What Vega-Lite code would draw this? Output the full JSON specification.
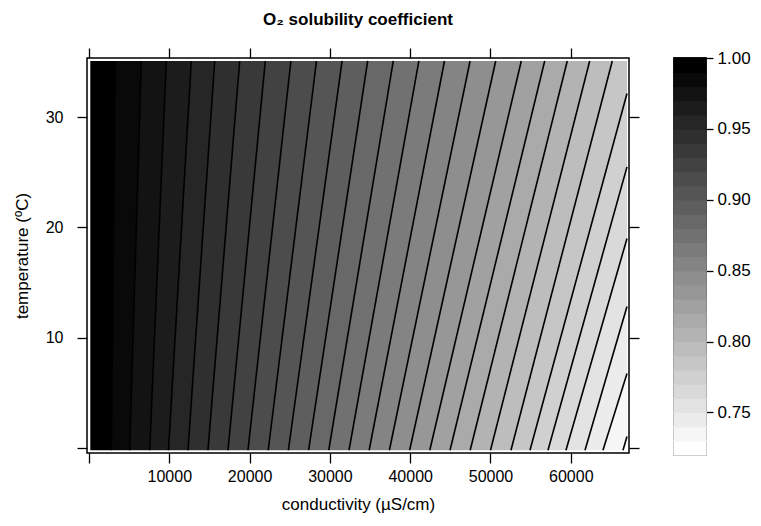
{
  "$schema": "https://vega.github.io/schema/vega-lite/v6.json",
  "background": "white",
  "padding": {"left": 12, "top": 10, "right": 5, "bottom": 5},
  "config": {
    "font": "Liberation Sans",
    "view": {"stroke": "black", "strokeWidth": 1.5},
    "axis": {"grid": false, "domain": false, "tickColor": "black", "tickWidth": 1.3, "tickSize": 10, "labelColor": "black", "labelFontSize": 16, "titleColor": "black", "titleFontSize": 17, "titleFontWeight": "normal", "labelFont": "Liberation Sans", "titleFont": "Liberation Sans"}
  },
  "datasets": {
    "bands": [
      {"mid": 0.995, "temp": -0.2, "c_lo": 160, "c_hi": 2780}, {"mid": 0.995, "temp": 35.1, "c_lo": 160, "c_hi": 3275},
      {"mid": 0.985, "temp": -0.2, "c_lo": 2780, "c_hi": 5070}, {"mid": 0.985, "temp": 35.1, "c_lo": 3275, "c_hi": 6513},
      {"mid": 0.975, "temp": -0.2, "c_lo": 5070, "c_hi": 7560}, {"mid": 0.975, "temp": 35.1, "c_lo": 6513, "c_hi": 9626},
      {"mid": 0.965, "temp": -0.2, "c_lo": 7560, "c_hi": 9900}, {"mid": 0.965, "temp": 35.1, "c_lo": 9626, "c_hi": 12740},
      {"mid": 0.955, "temp": -0.2, "c_lo": 9900, "c_hi": 12330}, {"mid": 0.955, "temp": 35.1, "c_lo": 12740, "c_hi": 15654},
      {"mid": 0.945, "temp": -0.2, "c_lo": 12330, "c_hi": 14820}, {"mid": 0.945, "temp": 35.1, "c_lo": 15654, "c_hi": 18767},
      {"mid": 0.935, "temp": -0.2, "c_lo": 14820, "c_hi": 17310}, {"mid": 0.935, "temp": 35.1, "c_lo": 18767, "c_hi": 21955},
      {"mid": 0.925, "temp": -0.2, "c_lo": 17310, "c_hi": 19800}, {"mid": 0.925, "temp": 35.1, "c_lo": 21955, "c_hi": 25143},
      {"mid": 0.915, "temp": -0.2, "c_lo": 19800, "c_hi": 22320}, {"mid": 0.915, "temp": 35.1, "c_lo": 25143, "c_hi": 28331},
      {"mid": 0.905, "temp": -0.2, "c_lo": 22320, "c_hi": 24830}, {"mid": 0.905, "temp": 35.1, "c_lo": 28331, "c_hi": 31519},
      {"mid": 0.895, "temp": -0.2, "c_lo": 24830, "c_hi": 27350}, {"mid": 0.895, "temp": 35.1, "c_lo": 31519, "c_hi": 34707},
      {"mid": 0.885, "temp": -0.2, "c_lo": 27350, "c_hi": 29860}, {"mid": 0.885, "temp": 35.1, "c_lo": 34707, "c_hi": 37895},
      {"mid": 0.875, "temp": -0.2, "c_lo": 29860, "c_hi": 32380}, {"mid": 0.875, "temp": 35.1, "c_lo": 37895, "c_hi": 41083},
      {"mid": 0.865, "temp": -0.2, "c_lo": 32380, "c_hi": 34890}, {"mid": 0.865, "temp": 35.1, "c_lo": 41083, "c_hi": 44271},
      {"mid": 0.855, "temp": -0.2, "c_lo": 34890, "c_hi": 37410}, {"mid": 0.855, "temp": 35.1, "c_lo": 44271, "c_hi": 47460},
      {"mid": 0.845, "temp": -0.2, "c_lo": 37410, "c_hi": 39930}, {"mid": 0.845, "temp": 35.1, "c_lo": 47460, "c_hi": 50648},
      {"mid": 0.835, "temp": -0.2, "c_lo": 39930, "c_hi": 42440}, {"mid": 0.835, "temp": 35.1, "c_lo": 50648, "c_hi": 53836},
      {"mid": 0.825, "temp": -0.2, "c_lo": 42440, "c_hi": 44960}, {"mid": 0.825, "temp": 35.1, "c_lo": 53836, "c_hi": 56750},
      {"mid": 0.815, "temp": -0.2, "c_lo": 44960, "c_hi": 47470}, {"mid": 0.815, "temp": 35.1, "c_lo": 56750, "c_hi": 59564},
      {"mid": 0.805, "temp": -0.2, "c_lo": 47470, "c_hi": 50000}, {"mid": 0.805, "temp": 35.1, "c_lo": 59564, "c_hi": 62354},
      {"mid": 0.795, "temp": -0.2, "c_lo": 50000, "c_hi": 52550}, {"mid": 0.795, "temp": 35.1, "c_lo": 62354, "c_hi": 65168},
      {"mid": 0.785, "temp": -0.2, "c_lo": 52550, "c_hi": 54920}, {"mid": 0.785, "temp": 32.15, "c_lo": 64113, "c_hi": 67000}, {"mid": 0.785, "temp": 35.1, "c_lo": 65168, "c_hi": 67000},
      {"mid": 0.775, "temp": -0.2, "c_lo": 54920, "c_hi": 57160}, {"mid": 0.775, "temp": 25.5, "c_lo": 64517, "c_hi": 67000}, {"mid": 0.775, "temp": 32.15, "c_lo": 67000, "c_hi": 67000},
      {"mid": 0.765, "temp": -0.2, "c_lo": 57160, "c_hi": 59400}, {"mid": 0.765, "temp": 19.0, "c_lo": 64511, "c_hi": 67000}, {"mid": 0.765, "temp": 25.5, "c_lo": 67000, "c_hi": 67000},
      {"mid": 0.755, "temp": -0.2, "c_lo": 59400, "c_hi": 61770}, {"mid": 0.755, "temp": 12.84, "c_lo": 64562, "c_hi": 67000}, {"mid": 0.755, "temp": 19.0, "c_lo": 67000, "c_hi": 67000},
      {"mid": 0.745, "temp": -0.2, "c_lo": 61770, "c_hi": 64010}, {"mid": 0.745, "temp": 6.76, "c_lo": 64561, "c_hi": 67000}, {"mid": 0.745, "temp": 12.84, "c_lo": 67000, "c_hi": 67000},
      {"mid": 0.735, "temp": -0.2, "c_lo": 64010, "c_hi": 66500}, {"mid": 0.735, "temp": 1.05, "c_lo": 64547, "c_hi": 67000}, {"mid": 0.735, "temp": 6.76, "c_lo": 67000, "c_hi": 67000},
      {"mid": 0.725, "temp": -0.2, "c_lo": 66500, "c_hi": 67000}, {"mid": 0.725, "temp": 1.05, "c_lo": 67000, "c_hi": 67000}
    ],
    "lines": [
      {"level": 0.99, "temp": -0.2, "cond": 2780}, {"level": 0.99, "temp": 35.1, "cond": 3275},
      {"level": 0.98, "temp": -0.2, "cond": 5070}, {"level": 0.98, "temp": 35.1, "cond": 6513},
      {"level": 0.97, "temp": -0.2, "cond": 7560}, {"level": 0.97, "temp": 35.1, "cond": 9626},
      {"level": 0.96, "temp": -0.2, "cond": 9900}, {"level": 0.96, "temp": 35.1, "cond": 12740},
      {"level": 0.95, "temp": -0.2, "cond": 12330}, {"level": 0.95, "temp": 35.1, "cond": 15654},
      {"level": 0.94, "temp": -0.2, "cond": 14820}, {"level": 0.94, "temp": 35.1, "cond": 18767},
      {"level": 0.93, "temp": -0.2, "cond": 17310}, {"level": 0.93, "temp": 35.1, "cond": 21955},
      {"level": 0.92, "temp": -0.2, "cond": 19800}, {"level": 0.92, "temp": 35.1, "cond": 25143},
      {"level": 0.91, "temp": -0.2, "cond": 22320}, {"level": 0.91, "temp": 35.1, "cond": 28331},
      {"level": 0.90, "temp": -0.2, "cond": 24830}, {"level": 0.90, "temp": 35.1, "cond": 31519},
      {"level": 0.89, "temp": -0.2, "cond": 27350}, {"level": 0.89, "temp": 35.1, "cond": 34707},
      {"level": 0.88, "temp": -0.2, "cond": 29860}, {"level": 0.88, "temp": 35.1, "cond": 37895},
      {"level": 0.87, "temp": -0.2, "cond": 32380}, {"level": 0.87, "temp": 35.1, "cond": 41083},
      {"level": 0.86, "temp": -0.2, "cond": 34890}, {"level": 0.86, "temp": 35.1, "cond": 44271},
      {"level": 0.85, "temp": -0.2, "cond": 37410}, {"level": 0.85, "temp": 35.1, "cond": 47460},
      {"level": 0.84, "temp": -0.2, "cond": 39930}, {"level": 0.84, "temp": 35.1, "cond": 50648},
      {"level": 0.83, "temp": -0.2, "cond": 42440}, {"level": 0.83, "temp": 35.1, "cond": 53836},
      {"level": 0.82, "temp": -0.2, "cond": 44960}, {"level": 0.82, "temp": 35.1, "cond": 56750},
      {"level": 0.81, "temp": -0.2, "cond": 47470}, {"level": 0.81, "temp": 35.1, "cond": 59564},
      {"level": 0.80, "temp": -0.2, "cond": 50000}, {"level": 0.80, "temp": 35.1, "cond": 62354},
      {"level": 0.79, "temp": -0.2, "cond": 52550}, {"level": 0.79, "temp": 35.1, "cond": 65168},
      {"level": 0.78, "temp": -0.2, "cond": 54920}, {"level": 0.78, "temp": 32.15, "cond": 67000},
      {"level": 0.77, "temp": -0.2, "cond": 57160}, {"level": 0.77, "temp": 25.5, "cond": 67000},
      {"level": 0.76, "temp": -0.2, "cond": 59400}, {"level": 0.76, "temp": 19.0, "cond": 67000},
      {"level": 0.75, "temp": -0.2, "cond": 61770}, {"level": 0.75, "temp": 12.84, "cond": 67000},
      {"level": 0.74, "temp": -0.2, "cond": 64010}, {"level": 0.74, "temp": 6.76, "cond": 67000},
      {"level": 0.73, "temp": -0.2, "cond": 66500}, {"level": 0.73, "temp": 1.05, "cond": 67000}
    ],
    "bar": [
      {"lo": 0.72, "hi": 0.73, "mid": 0.725}, {"lo": 0.73, "hi": 0.74, "mid": 0.735}, {"lo": 0.74, "hi": 0.75, "mid": 0.745},
      {"lo": 0.75, "hi": 0.76, "mid": 0.755}, {"lo": 0.76, "hi": 0.77, "mid": 0.765}, {"lo": 0.77, "hi": 0.78, "mid": 0.775},
      {"lo": 0.78, "hi": 0.79, "mid": 0.785}, {"lo": 0.79, "hi": 0.80, "mid": 0.795}, {"lo": 0.80, "hi": 0.81, "mid": 0.805},
      {"lo": 0.81, "hi": 0.82, "mid": 0.815}, {"lo": 0.82, "hi": 0.83, "mid": 0.825}, {"lo": 0.83, "hi": 0.84, "mid": 0.835},
      {"lo": 0.84, "hi": 0.85, "mid": 0.845}, {"lo": 0.85, "hi": 0.86, "mid": 0.855}, {"lo": 0.86, "hi": 0.87, "mid": 0.865},
      {"lo": 0.87, "hi": 0.88, "mid": 0.875}, {"lo": 0.88, "hi": 0.89, "mid": 0.885}, {"lo": 0.89, "hi": 0.90, "mid": 0.895},
      {"lo": 0.90, "hi": 0.91, "mid": 0.905}, {"lo": 0.91, "hi": 0.92, "mid": 0.915}, {"lo": 0.92, "hi": 0.93, "mid": 0.925},
      {"lo": 0.93, "hi": 0.94, "mid": 0.935}, {"lo": 0.94, "hi": 0.95, "mid": 0.945}, {"lo": 0.95, "hi": 0.96, "mid": 0.955},
      {"lo": 0.96, "hi": 0.97, "mid": 0.965}, {"lo": 0.97, "hi": 0.98, "mid": 0.975}, {"lo": 0.98, "hi": 0.99, "mid": 0.985},
      {"lo": 0.99, "hi": 1.00, "mid": 0.995}
    ]
  },
  "bounds": "flush",
  "spacing": 45,
  "hconcat": [
    {
      "width": 542,
      "height": 395,
      "title": {"text": "O₂ solubility coefficient", "fontSize": 17, "fontWeight": "bold", "color": "black", "offset": 18.5},
      "layer": [
        {
          "data": {"name": "bands"},
          "mark": {"type": "area", "orient": "horizontal"},
          "encoding": {
            "y": {"field": "temp", "type": "quantitative", "scale": {"domain": [-0.45, 35.37], "nice": false, "zero": false},
                  "axis": {"orient": "left", "values": [0, 10, 20, 30], "labelExpr": "datum.value == 0 ? '' : datum.label", "title": "temperature (ºC)", "labelPadding": 14, "titlePadding": 14}},
            "x": {"field": "c_lo", "type": "quantitative", "stack": null, "scale": {"domain": [-250, 67250], "nice": false, "zero": false},
                  "axis": {"orient": "bottom", "values": [0, 10000, 20000, 30000, 40000, 50000, 60000], "format": "d", "labelExpr": "datum.value == 0 ? '' : datum.label", "title": "conductivity (µS/cm)", "labelPadding": 5, "titlePadding": 12}},
            "x2": {"field": "c_hi"},
            "color": {"field": "mid", "type": "quantitative", "scale": {"domain": [0.725, 0.995], "range": ["#ffffff", "#000000"], "interpolate": "rgb"}, "legend": null},
            "detail": {"field": "mid"}
          }
        },
        {
          "data": {"name": "lines"},
          "mark": {"type": "line", "color": "black", "strokeWidth": 1.6},
          "encoding": {
            "x": {"field": "cond", "type": "quantitative", "axis": {"orient": "top", "values": [0, 10000, 20000, 30000, 40000, 50000, 60000], "labels": false, "title": null}},
            "y": {"field": "temp", "type": "quantitative", "axis": {"orient": "right", "values": [0, 10, 20, 30], "labels": false, "title": null}},
            "detail": {"field": "level"}
          }
        }
      ],
      "resolve": {"axis": {"x": "independent", "y": "independent"}}
    },
    {
      "data": {"name": "bar"},
      "width": 32,
      "height": 397,
      "mark": {"type": "rect", "strokeWidth": 1.5},
      "encoding": {
        "y": {"field": "lo", "type": "quantitative", "scale": {"domain": [0.72, 1.0], "nice": false, "zero": false},
              "axis": {"orient": "right", "values": [0.75, 0.8, 0.85, 0.9, 0.95, 1.0], "format": ".2f", "title": null, "tickSize": 7, "labelPadding": 4, "labelFontSize": 17}},
        "y2": {"field": "hi"},
        "color": {"field": "mid", "type": "quantitative", "scale": {"domain": [0.725, 0.995], "range": ["#ffffff", "#000000"], "interpolate": "rgb"}, "legend": null},
        "stroke": {"field": "mid", "type": "quantitative", "scale": {"domain": [0.725, 0.995], "range": ["#ffffff", "#000000"], "interpolate": "rgb"}, "legend": null}
      }
    }
  ]
}
